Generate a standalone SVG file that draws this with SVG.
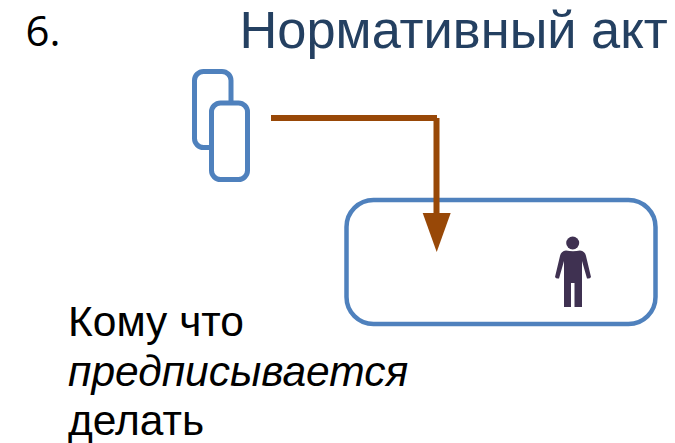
<svg xmlns="http://www.w3.org/2000/svg" width="675" height="443" viewBox="0 0 675 443">
<style>
.s{font-family:"Liberation Sans",Arial,sans-serif;fill:#000;font-size:42.5px}
.b{fill:#fff;stroke:#4f81bd;stroke-width:5}
</style>
<rect width="675" height="443" fill="#fff"/>
<text x="25.500" y="46" font-family="Open Sans" font-size="42" fill="#000">6.</text>
<text x="239.500" y="47.500" font-family="Liberation Sans" font-size="52.4" fill="#244061">Нормативный акт</text>
<g id="doc1"><rect class="b" x="194.500" y="71.500" width="36.500" height="76" rx="9"/></g>
<g id="doc2"><rect class="b" x="211.500" y="103" width="36" height="76.500" rx="9"/></g>
<g id="box"><rect class="b" style="stroke-width:4.500" x="346.500" y="200" width="309" height="124" rx="27"/></g>
<g id="person" fill="#3f3151">
<circle cx="572.700" cy="243" r="6.500"/>
<path d="M566 250.500Q573 252 580 250.500Q585 251 586 256L591 277Q590 279 587 278.500L582 261V307H574.500V283H571V307H564V261L559 278.500Q556 279 555 277L560 256Q561 251 566 250.500Z"/>
</g>
<g id="connectors" fill="none">
<path d="M271 118H437M436.500 118V218" stroke="#984807" stroke-width="6"/>
<polygon points="422.700,213 450.700,213 436.700,252" fill="#984807"/>
</g>
<g id="label">
<text class="s" x="68" y="336">Кому что</text>
<text class="s" x="68" y="386" font-style="italic">предписывается</text>
<text class="s" x="68" y="435">делать</text>
</g>
</svg>
